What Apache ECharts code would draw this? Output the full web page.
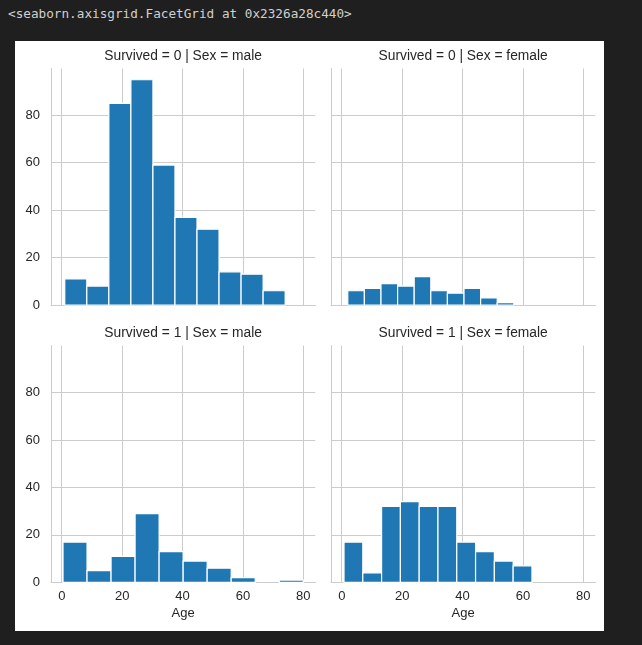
<!DOCTYPE html>
<html>
<head>
<meta charset="utf-8">
<script src="https://cdn.jsdelivr.net/npm/echarts@6/dist/echarts.min.js"></script>
<style>
html, body { margin: 0; padding: 0; width: 642px; height: 645px; background: #1f1f1f; overflow: hidden; }
.out { position: absolute; left: 8px; top: 5px; color: #d0d0d0; font: 12.7px "DejaVu Sans Mono", monospace; line-height: 18px; white-space: pre; }
#facetChart { position: absolute; left: 15px; top: 41px; width: 589px; height: 590px; background: #fff; }
</style>
</head>
<body>
<div class="out">&lt;seaborn.axisgrid.FacetGrid at 0x2326a28c440&gt;</div>
<div id="facetChart"></div>
<script>
// histogram bins (edges) and counts per facet
const binsDiedMale = [1, 8.3, 15.6, 22.9, 30.2, 37.5, 44.8, 52.1, 59.4, 66.7, 74]
const countsDiedMale = [11, 8, 85, 95, 59, 37, 32, 14, 13, 6]

const binsDiedFemale = [2, 7.5, 13, 18.5, 24, 29.5, 35, 40.5, 46, 51.5, 57]
const countsDiedFemale = [6, 7, 9, 8, 12, 6, 5, 7, 3, 1]

const binsSurvMale = [0.42, 8.378, 16.336, 24.294, 32.252, 40.21, 48.168, 56.126, 64.084, 72.042, 80]
const countsSurvMale = [17, 5, 11, 29, 13, 9, 6, 2, 0, 1]

const binsSurvFemale = [0.75, 6.975, 13.2, 19.425, 25.65, 31.875, 38.1, 44.325, 50.55, 56.775, 63]
const countsSurvFemale = [17, 4, 32, 34, 32, 32, 17, 13, 9, 7]

const panelTitles = ['Survived = 0 | Sex = male', 'Survived = 0 | Sex = female',
  'Survived = 1 | Sex = male', 'Survived = 1 | Sex = female']
const xTicks = [0, 20, 40, 60, 80]
const yTicks = [0, 20, 40, 60, 80]
const X_MIN = -3.559
const X_MAX = 83.979
const Y_MAX = 99.75

const TEXT = '#262626'
const GRID_LINE = '#cccccc'
const FONT = '"Liberation Sans", Arial, sans-serif'

// grid boxes: [left, top, width, height]
const boxes = [
  [36, 27.5, 264.3, 236.5],
  [316, 27.5, 264.3, 236.5],
  [36, 304.6, 264.3, 236.8],
  [316, 304.6, 264.3, 236.8]
]

function toBars (edges, counts) {
  const out = []
  counts.forEach((c, i) => {
    if (c > 0) out.push([edges[i], edges[i + 1], c])
  })
  return out
}

const facetData = [
  toBars(binsDiedMale, countsDiedMale),
  toBars(binsDiedFemale, countsDiedFemale),
  toBars(binsSurvMale, countsSurvMale),
  toBars(binsSurvFemale, countsSurvFemale)
]

function renderBin (params, api) {
  const p0 = api.coord([api.value(0), api.value(2)])
  const p1 = api.coord([api.value(1), 0])
  return {
    type: 'rect',
    shape: { x: p0[0], y: p0[1], width: p1[0] - p0[0], height: p1[1] - p0[1] },
    style: { fill: '#1f77b4', stroke: '#ffffff', lineWidth: 1.2 }
  }
}

const chart = echarts.init(document.getElementById('facetChart'))

const grids = boxes.map(b => ({ left: b[0], top: b[1], width: b[2], height: b[3] }))

const xAxes = boxes.map((b, i) => ({
  type: 'value',
  gridIndex: i,
  min: X_MIN,
  max: X_MAX,
  axisLine: { show: true, onZero: false, lineStyle: { color: GRID_LINE, width: 1 } },
  axisTick: { show: false, customValues: xTicks },
  axisLabel: { show: i >= 2, customValues: xTicks, margin: 8, color: TEXT, fontSize: 13, fontFamily: FONT },
  splitLine: { show: true, lineStyle: { color: GRID_LINE, width: 1 } },
  name: i >= 2 ? 'Age' : '',
  nameLocation: 'middle',
  nameGap: 25,
  nameTextStyle: { color: TEXT, fontSize: 13, fontFamily: FONT }
}))

const yAxes = boxes.map((b, i) => ({
  type: 'value',
  gridIndex: i,
  min: 0,
  max: Y_MAX,
  axisLine: { show: true, onZero: false, lineStyle: { color: GRID_LINE, width: 1 } },
  axisTick: { show: false, customValues: yTicks },
  axisLabel: { show: i % 2 === 0, customValues: yTicks, margin: 11, color: TEXT, fontSize: 13, fontFamily: FONT },
  splitLine: { show: true, lineStyle: { color: GRID_LINE, width: 1 } }
}))

const titles = boxes.map((b, i) => ({
  type: 'text',
  x: b[0] + b[2] / 2,
  y: b[1] - 12.8,
  style: {
    text: panelTitles[i],
    fill: TEXT,
    font: '13.8px ' + FONT,
    align: 'center',
    verticalAlign: 'middle'
  }
}))

chart.setOption({
  animation: false,
  grid: grids,
  xAxis: xAxes,
  yAxis: yAxes,
  graphic: titles,
  series: facetData.map((d, i) => ({
    type: 'custom',
    name: panelTitles[i],
    xAxisIndex: i,
    yAxisIndex: i,
    renderItem: renderBin,
    encode: { x: [0, 1], y: 2 },
    data: d
  }))
})
</script>
</body>
</html>
